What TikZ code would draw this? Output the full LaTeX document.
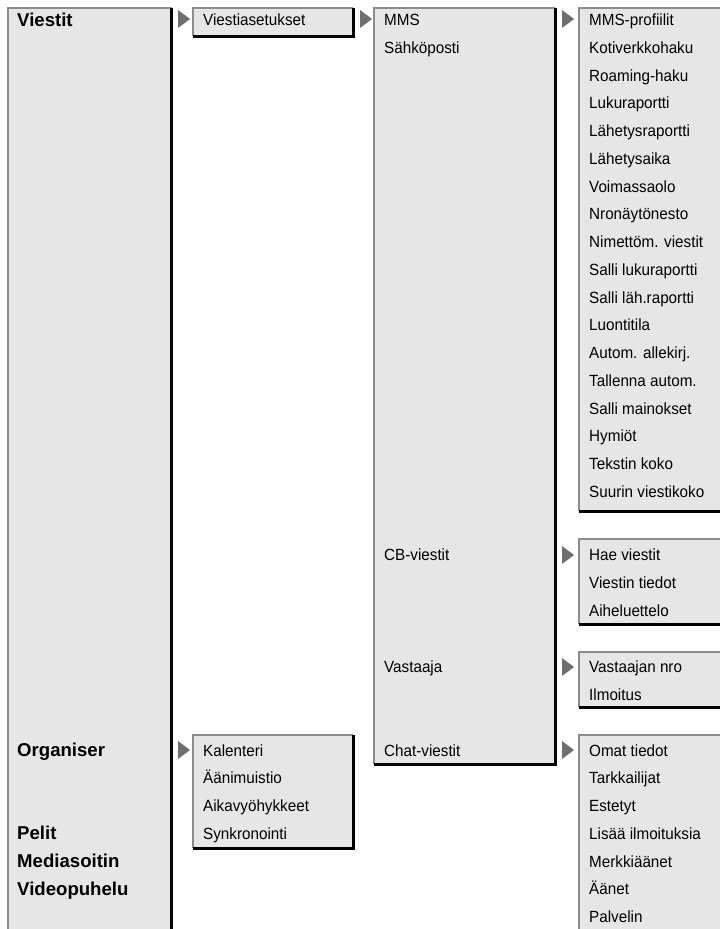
\documentclass[tikz,border=0pt]{standalone}
\usepackage{fontspec}
\setmainfont{Liberation Sans}
\newfontfamily\itemfont[FakeStretch=0.94]{Liberation Sans}
\usetikzlibrary{positioning,calc}
\definecolor{boxfill}{HTML}{E6E6E6}
\definecolor{boxedge}{HTML}{8C8C8C}
\definecolor{marker}{HTML}{6E6E6E}
% menu box: left/top edge grey, right/bottom edge black
\newcommand{\menubox}[4]{%
  \fill[boxfill] (#1,#2) rectangle (#3,#4);
  \draw[boxedge, line width=1.5pt] (#1,#4) -- (#1,#2) -- (#3,#2);
  \draw[black, line width=3pt] (#3,#2) -- (#3,#4) -- (#1,#4);}
\newcommand{\submarker}[2]{%
  \fill[marker] (#1,#2-9) -- (#1+12,#2) -- (#1,#2+9) -- cycle;}

\begin{document}
\begin{tikzpicture}[x=1pt, y=-1pt,
  item/.style={anchor=base west, inner sep=0pt, font=\itemfont\fontsize{16.2}{18}\selectfont},
  mainitem/.style={anchor=base west, inner sep=0pt, font=\bfseries\fontsize{18.6}{20}\selectfont}]
  \useasboundingbox (0,0) rectangle (720,929);

  % boxes
  \menubox{8}{8}{171.5}{960}
  \menubox{193}{8}{353}{36}
  \menubox{193}{735}{353}{848}
  \menubox{374}{8}{555}{764}
  \menubox{579}{8}{740}{511}
  \menubox{579}{539}{740}{624}
  \menubox{579}{652}{740}{707}
  \menubox{579}{735}{740}{960}

  % markers
  \submarker{178}{19}
  \submarker{178}{750}
  \submarker{360}{19}
  \submarker{562}{19}
  \submarker{562}{555}
  \submarker{562}{667}
  \submarker{562}{750}

  % main menu
  \node[mainitem] (viestit)     at (17,26)    {Viestit};
  \node[mainitem] (organiser)   at (17,756.5) {Organiser};
  \node[mainitem] (pelit)       at (17,839.7) {Pelit};
  \node[mainitem] (mediasoitin) at (17,867.5) {Mediasoitin};
  \node[mainitem] (videopuhelu) at (17,895.2) {Videopuhelu};

  % second level
  \node[item] (asetukset) at (203,25.5)  {Viestiasetukset};
  \node[item] (kalenteri) at (203,756)   {Kalenteri};
  \node[item] (muistio)   at (203,783.7) {Äänimuistio};
  \node[item] (vyohyke)   at (203,811.5) {Aikavyöhykkeet};
  \node[item] (synk)      at (203,839.2) {Synkronointi};

  % third level
  \node[item] (mms)      at (384,25.5)  {MMS};
  \node[item] (sahkop)   at (384,53.2)  {Sähköposti};
  \node[item] (cb)       at (384,560.5) {CB-viestit};
  \node[item] (vastaaja) at (384,672.5) {Vastaaja};
  \node[item] (chat)     at (384,756)   {Chat-viestit};

  % MMS settings
  \node[item] (m1)  at (589,25.5)  {MMS-profiilit};
  \node[item] (m2)  at (589,53.2)  {Kotiverkkohaku};
  \node[item] (m3)  at (589,81)    {Roaming-haku};
  \node[item] (m4)  at (589,108.7) {Lukuraportti};
  \node[item] (m5)  at (589,136.5) {Lähetysraportti};
  \node[item] (m6)  at (589,164.2) {Lähetysaika};
  \node[item] (m7)  at (589,192)   {Voimassaolo};
  \node[item] (m8)  at (589,219.7) {Nronäytönesto};
  \node[item] (m9)  at (589,247.5) {Nimettöm. viestit};
  \node[item] (m10) at (589,275.2) {Salli lukuraportti};
  \node[item] (m11) at (589,303)   {Salli läh.raportti};
  \node[item] (m12) at (589,330.7) {Luontitila};
  \node[item] (m13) at (589,358.5) {Autom. allekirj.};
  \node[item] (m14) at (589,386.2) {Tallenna autom.};
  \node[item] (m15) at (589,414)   {Salli mainokset};
  \node[item] (m16) at (589,441.7) {Hymiöt};
  \node[item] (m17) at (589,469.5) {Tekstin koko};
  \node[item] (m18) at (589,497.2) {Suurin viestikoko};

  % CB
  \node[item] (cb1) at (589,560.5) {Hae viestit};
  \node[item] (cb2) at (589,588.2) {Viestin tiedot};
  \node[item] (cb3) at (589,616)   {Aiheluettelo};

  % voicemail
  \node[item] (va1) at (589,672.5) {Vastaajan nro};
  \node[item] (va2) at (589,700.2) {Ilmoitus};

  % chat
  \node[item] (ch1) at (589,756)   {Omat tiedot};
  \node[item] (ch2) at (589,783.7) {Tarkkailijat};
  \node[item] (ch3) at (589,811.5) {Estetyt};
  \node[item] (ch4) at (589,839.2) {Lisää ilmoituksia};
  \node[item] (ch5) at (589,867)   {Merkkiäänet};
  \node[item] (ch6) at (589,894.7) {Äänet};
  \node[item] (ch7) at (589,922.5) {Palvelin};
\end{tikzpicture}
\end{document}
